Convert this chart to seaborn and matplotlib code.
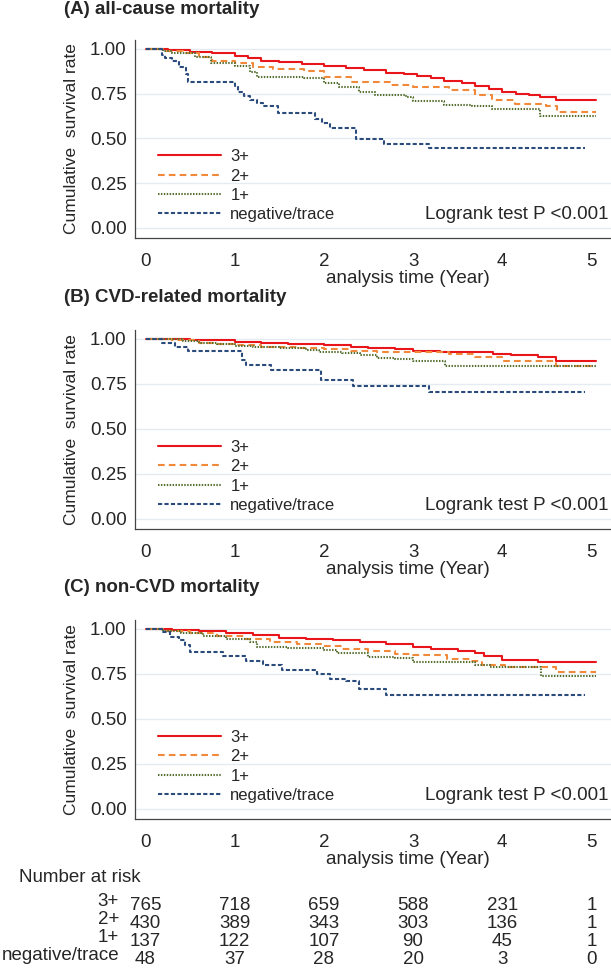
import numpy as np
import pandas as pd
import seaborn as sns
import matplotlib.pyplot as plt
from matplotlib.transforms import blended_transform_factory

groups = ["3+", "2+", "1+", "negative/trace"]
colors = {"3+": "#e8161b", "2+": "#f08a3a", "1+": "#566f30", "negative/trace": "#2a4b7c"}
dashes = {"3+": "", "2+": (3.2, 2.0), "1+": (0.7, 0.7), "negative/trace": (2.0, 1.1)}

# (A) all-cause mortality
a_t_3 = [0, 0.25, 0.5, 0.75, 1.0, 1.15, 1.3, 1.5, 1.75, 2.0, 2.25, 2.45, 2.7, 2.9, 3.05, 3.2, 3.35, 3.55, 3.7, 3.85, 4.0, 4.15, 4.3, 4.42, 4.6, 5.05]
a_s_3 = [1.0, 0.995, 0.985, 0.975, 0.962, 0.95, 0.935, 0.925, 0.915, 0.907, 0.895, 0.88, 0.868, 0.86, 0.848, 0.835, 0.822, 0.81, 0.795, 0.775, 0.762, 0.75, 0.742, 0.73, 0.715, 0.715]
a_t_2 = [0, 0.2, 0.42, 0.6, 0.75, 1.0, 1.2, 1.43, 1.78, 2.0, 2.3, 2.74, 3.0, 3.4, 3.7, 3.88, 4.14, 4.49, 4.62, 5.05]
a_s_2 = [1.0, 0.99, 0.975, 0.955, 0.935, 0.92, 0.9, 0.888, 0.875, 0.843, 0.817, 0.8, 0.785, 0.77, 0.745, 0.715, 0.692, 0.683, 0.646, 0.646]
a_t_1 = [0, 0.2, 0.3, 0.55, 0.73, 1.0, 1.17, 1.25, 1.78, 2.0, 2.17, 2.39, 2.57, 2.92, 3.0, 3.35, 3.66, 3.88, 4.42, 5.05]
a_s_1 = [1.0, 0.99, 0.975, 0.955, 0.92, 0.907, 0.873, 0.845, 0.836, 0.81, 0.785, 0.761, 0.743, 0.733, 0.711, 0.688, 0.679, 0.664, 0.627, 0.627]
a_t_n = [0, 0.18, 0.22, 0.3, 0.38, 0.45, 0.48, 1.0, 1.04, 1.1, 1.17, 1.25, 1.32, 1.49, 1.9, 1.98, 2.07, 2.36, 2.67, 3.18, 4.93]
a_s_n = [1.0, 0.966, 0.95, 0.93, 0.9, 0.86, 0.815, 0.793, 0.76, 0.735, 0.715, 0.7, 0.68, 0.644, 0.61, 0.585, 0.557, 0.495, 0.47, 0.445, 0.445]

# (B) CVD-related mortality
b_t_3 = [0, 0.5, 1.0, 1.3, 1.6, 2.0, 2.3, 2.5, 2.8, 3.0, 3.3, 3.6, 3.9, 4.1, 4.4, 4.6, 5.05]
b_s_3 = [1.0, 0.993, 0.985, 0.978, 0.972, 0.965, 0.958, 0.95, 0.945, 0.935, 0.93, 0.925, 0.915, 0.91, 0.9, 0.88, 0.88]
b_t_2 = [0, 0.3, 0.6, 0.8, 1.0, 1.3, 1.7, 2.0, 2.3, 2.6, 3.0, 3.4, 3.7, 4.0, 4.6, 5.05]
b_s_2 = [1.0, 0.993, 0.98, 0.97, 0.965, 0.958, 0.95, 0.942, 0.935, 0.928, 0.925, 0.915, 0.9, 0.875, 0.85, 0.85]
b_t_1 = [0, 0.42, 0.6, 0.8, 1.0, 1.2, 1.5, 1.8, 1.95, 2.2, 2.4, 2.6, 2.8, 3.0, 3.36, 5.05]
b_s_1 = [1.0, 0.99, 0.98, 0.97, 0.962, 0.955, 0.948, 0.94, 0.93, 0.92, 0.91, 0.895, 0.89, 0.88, 0.851, 0.851]
b_t_n = [0, 0.18, 0.33, 0.48, 1.08, 1.13, 1.41, 1.97, 2.33, 3.18, 4.93]
b_s_n = [1.0, 0.979, 0.957, 0.932, 0.885, 0.857, 0.829, 0.773, 0.739, 0.704, 0.704]

# (C) non-CVD mortality
c_t_3 = [0, 0.3, 0.6, 0.9, 1.2, 1.5, 1.8, 2.1, 2.4, 2.7, 3.0, 3.2, 3.5, 3.7, 3.8, 4.0, 4.4, 5.05]
c_s_3 = [1.0, 0.995, 0.988, 0.978, 0.965, 0.952, 0.945, 0.938, 0.928, 0.915, 0.902, 0.89, 0.878, 0.865, 0.848, 0.83, 0.816, 0.816]
c_t_2 = [0, 0.2, 0.5, 0.8, 1.1, 1.4, 1.7, 2.0, 2.2, 2.5, 2.8, 3.0, 3.38, 3.64, 3.77, 4.03, 4.6, 5.05]
c_s_2 = [1.0, 0.99, 0.975, 0.96, 0.945, 0.93, 0.918, 0.905, 0.89, 0.875, 0.862, 0.853, 0.833, 0.82, 0.8, 0.788, 0.762, 0.762]
c_t_1 = [0, 0.2, 0.4, 0.65, 0.9, 1.17, 1.25, 1.6, 2.0, 2.15, 2.5, 2.8, 3.0, 3.69, 3.86, 4.43, 5.05]
c_s_1 = [1.0, 0.99, 0.975, 0.96, 0.945, 0.93, 0.9, 0.892, 0.885, 0.865, 0.845, 0.84, 0.814, 0.8, 0.787, 0.74, 0.74]
c_t_n = [0, 0.18, 0.27, 0.37, 0.44, 0.5, 0.87, 1.13, 1.32, 1.53, 1.92, 2.07, 2.25, 2.39, 2.7, 4.93]
c_s_n = [1.0, 0.982, 0.957, 0.94, 0.911, 0.87, 0.852, 0.824, 0.8, 0.772, 0.75, 0.72, 0.71, 0.665, 0.633, 0.633]

# number at risk
risk_times = [0, 1, 2, 3, 4, 5]
risk_3 = [765, 718, 659, 588, 231, 1]
risk_2 = [430, 389, 343, 303, 136, 1]
risk_1 = [137, 122, 107, 90, 45, 1]
risk_n = [48, 37, 28, 20, 3, 0]

panels = [
    ("(A) all-cause mortality", [(a_t_3, a_s_3), (a_t_2, a_s_2), (a_t_1, a_s_1), (a_t_n, a_s_n)]),
    ("(B) CVD-related mortality", [(b_t_3, b_s_3), (b_t_2, b_s_2), (b_t_1, b_s_1), (b_t_n, b_s_n)]),
    ("(C) non-CVD mortality", [(c_t_3, c_s_3), (c_t_2, c_s_2), (c_t_1, c_s_1), (c_t_n, c_s_n)]),
]

sns.set_style("white")
plt.rcParams["font.family"] = ["Liberation Sans", "DejaVu Sans"]

W, H = 611, 969
fig = plt.figure(figsize=(W / 100, H / 100), dpi=100)

# pixel layout: (axes top, axes bottom, title y)
layout = [(40, 238, 10), (330, 529, 297), (620, 819, 588)]
ax_left = 135

axes = []
for (title, curves), (top, bot, ty) in zip(panels, layout):
    ax = fig.add_axes([ax_left / W, 1 - bot / H, (W - ax_left) / W, (bot - top) / H])
    axes.append(ax)

    frames = []
    for g, (t, s) in zip(groups, curves):
        frames.append(pd.DataFrame({"time": t, "surv": s, "group": g}))
    df = pd.concat(frames, ignore_index=True)

    for yv in [0, 0.25, 0.5, 0.75, 1.0]:
        ax.axhline(yv, color="#e4ecf1", lw=1.0, zorder=0)

    sns.lineplot(data=df, x="time", y="surv", hue="group", style="group",
                 hue_order=groups, style_order=groups, palette=colors, dashes=dashes,
                 estimator=None, drawstyle="steps-post", lw=1.5, ax=ax)

    ax.set_xlim(-0.118, 5.22)
    ax.set_ylim(-0.056, 1.05)
    ax.set_xticks(risk_times)
    ax.set_yticks([0, 0.25, 0.5, 0.75, 1.0])
    ax.set_yticklabels(["0.00", "0.25", "0.50", "0.75", "1.00"])
    ax.tick_params(axis="both", labelsize=13.5, length=5, width=0.9, color="#444444", direction="out")
    ax.tick_params(axis="y", pad=1)
    ax.tick_params(axis="x", pad=5.5)
    for side in ["top", "right"]:
        ax.spines[side].set_visible(False)
    for side in ["left", "bottom"]:
        ax.spines[side].set_color("#444444")
        ax.spines[side].set_linewidth(0.9)

    ax.set_xlabel("analysis time (Year)", fontsize=13.5)
    ax.xaxis.set_label_coords(0.574, -0.16)
    ax.set_ylabel("Cumulative  survival rate", fontsize=12.5)
    ax.yaxis.set_label_coords(-0.118, 0.5)

    handles, labels = ax.get_legend_handles_labels()
    ax.legend(handles, labels, loc="upper left", bbox_to_anchor=(0.048, 0.448), frameon=False,
              fontsize=12, handlelength=3.8, handletextpad=0.55, labelspacing=0.26, borderpad=0,
              borderaxespad=0)

    ax.text(0.994, 0.12, "Logrank test P <0.001", transform=ax.transAxes, ha="right", va="center", fontsize=13.5)
    fig.text(64 / W, 1 - ty / H, title, fontsize=13.5, fontweight="bold", ha="left", va="center")

# number at risk table under panel C
axc = axes[2]
trans = blended_transform_factory(axc.transData, fig.transFigure)
fig.text(19 / W, 1 - 878 / H, "Number at risk", fontsize=13.5, ha="left", va="center")
row_y = [905, 923, 941, 959]
for g, counts, yy in zip(groups, [risk_3, risk_2, risk_1, risk_n], row_y):
    fig.text(119 / W, 1 - (yy - 3) / H, g, fontsize=13.5, ha="right", va="center")
    for t, n in zip(risk_times, counts):
        axc.text(t, 1 - yy / H, str(n), transform=trans, fontsize=13.5, ha="center", va="center", clip_on=False)

fig.savefig("out.png", dpi=100)
